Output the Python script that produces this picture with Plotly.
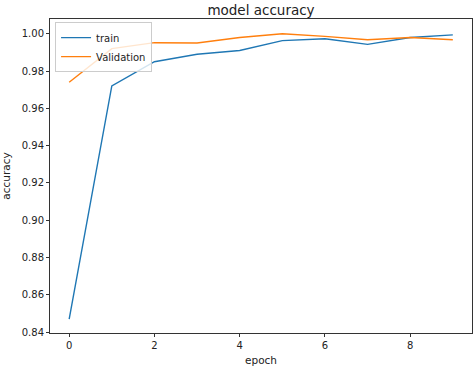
import plotly.graph_objects as go

epochs = [0, 1, 2, 3, 4, 5, 6, 7, 8, 9]
train_acc = [0.847, 0.972, 0.985, 0.989, 0.991, 0.9963, 0.9973, 0.9943, 0.998, 0.9994]
val_acc = [0.974, 0.992, 0.9952, 0.995, 0.998, 1.000, 0.9986, 0.9968, 0.998, 0.9968]
x_ticks = [0, 2, 4, 6, 8]
y_ticks = [0.84, 0.86, 0.88, 0.90, 0.92, 0.94, 0.96, 0.98, 1.00]

fig = go.Figure()
fig.add_trace(go.Scatter(x=epochs, y=train_acc, mode="lines", name="train",
                         line=dict(color="#1f77b4", width=1.4)))
fig.add_trace(go.Scatter(x=epochs, y=val_acc, mode="lines", name="Validation",
                         line=dict(color="#ff7f0e", width=1.4)))

font = "DejaVu Sans"
fig.update_layout(
    width=474, height=369,
    margin=dict(l=50, r=2, t=19, b=36),
    paper_bgcolor="white", plot_bgcolor="white",
    font=dict(family=font, size=10, color="#222"),
    title=dict(text="model accuracy", x=(50 + 472) / 2 / 474, xanchor="center", y=1 - 10 / 369,
               yanchor="middle", font=dict(size=13.5, family=font, color="#222")),
    showlegend=True,
    legend=dict(x=0.012, y=0.99, xanchor="left", yanchor="top",
                bgcolor="rgba(255,255,255,0.8)", bordercolor="#cccccc", borderwidth=1,
                font=dict(size=10, family=font, color="#222"),
                tracegroupgap=0, itemwidth=30),
)
fig.update_xaxes(
    range=[-0.45, 9.45], tickvals=x_ticks, ticktext=[str(v) for v in x_ticks],
    showgrid=False, zeroline=False, showline=True, linecolor="#333", linewidth=1,
    mirror=True, ticks="outside", ticklen=3, tickcolor="#333", automargin=False,
    title=dict(text="epoch", font=dict(size=10.5, family=font, color="#222"), standoff=6),
)
fig.update_yaxes(
    range=[0.8395, 1.0079], tickvals=y_ticks, ticktext=[f"{v:.2f}" for v in y_ticks],
    showgrid=False, zeroline=False, showline=True, linecolor="#333", linewidth=1,
    mirror=True, ticks="outside", ticklen=3, tickcolor="#333", automargin=False,
    title=dict(text="accuracy", font=dict(size=10.5, family=font, color="#222"), standoff=11),
)

fig.write_html("out.html", config={"displayModeBar": False},
               post_script="document.body.style.margin='0';")
